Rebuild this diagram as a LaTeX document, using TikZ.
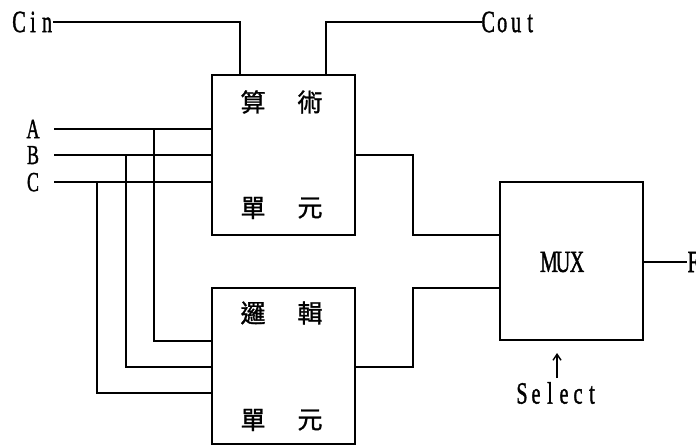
\documentclass[tikz,border=0pt]{standalone}
\usepackage{fontspec}
\usetikzlibrary{arrows.meta}
\newfontfamily\cjk[FakeBold=1.2]{Noto Sans CJK TC}
\newfontfamily\latserif[FakeBold=1.6]{Liberation Serif}
\usepackage{graphicx}
\newcommand\mc[1]{\makebox[14pt]{\scalebox{0.72}[1.1]{#1}}}
\newcommand\lbl[1]{{\latserif\fontsize{28}{28}\selectfont #1}}
\newcommand\lbs[1]{{\latserif\fontsize{25}{25}\selectfont #1}}
\begin{document}
\begin{tikzpicture}[x=1pt,y=-1pt,
  wire/.style={line width=1.9pt,line cap=rect},
  blk/.style={draw,line width=2pt,rectangle,inner sep=0pt},
  ch/.style={font=\cjk\fontsize{25}{25}\selectfont,inner sep=0pt},
  lt/.style={inner sep=0pt}]
\useasboundingbox (0,0) rectangle (696,446);
% blocks
\node[blk,minimum width=143pt,minimum height=160pt] (au) at (283.5,155) {};
\node[blk,minimum width=143pt,minimum height=156pt] (lu) at (283.5,366) {};
\node[blk,minimum width=143pt,minimum height=158pt] (mux) at (571.5,261) {};
% block texts
\node[ch] (t1) at (253,102) {算};
\node[ch] (t2) at (310,102) {術};
\node[ch] (t3) at (253,208) {單};
\node[ch] (t4) at (310,208) {元};
\node[ch] (t5) at (253,313) {邏};
\node[ch] (t6) at (310,313) {輯};
\node[ch] (t7) at (253,420) {單};
\node[ch] (t8) at (310,420) {元};
\node[lt] (muxt) at (563,262) {\lbl{\mc{M}\mc{U}\mc{X}}};
% labels
\node[lt] (cin) at (33,22) {\lbl{\mc{C}\mc{i}\mc{n}}};
\node[lt,anchor=west] (cout) at (481,22) {\lbl{\mc{C}\mc{o}\mc{u}\mc{t}}};
\node[lt,text depth=0pt] (la) at (33,129) {\lbs{\mc{A}}};
\node[lt,text depth=0pt] (lb) at (33,155) {\lbs{\mc{B}}};
\node[lt,text depth=0pt] (lc) at (33,182) {\lbs{\mc{C}}};
\node[lt,anchor=west] (f) at (686,262) {\lbl{\mc{F}}};
\node[lt] (sel) at (557,393) {\lbl{\mc{S}\mc{e}\mc{l}\mc{e}\mc{c}\mc{t}}};
% coordinates
\coordinate (aS) at (55,129);
\coordinate (bS) at (55,155);
\coordinate (cS) at (55,182);
\coordinate (ta) at (154,129);
\coordinate (tb) at (126,155);
\coordinate (tc) at (97,182);
\coordinate (selTip) at (557,353);
\coordinate (selTail) at (557,378);
% carry
\draw[wire] (cin.east) -- (240,22) -- (240,0 |- au.north);
\draw[wire] (326,0 |- au.north) -- (326,22) -- (cout.west);
% inputs
\draw[wire] (aS) -- (au.west |- aS);
\draw[wire] (bS) -- (au.west |- bS);
\draw[wire] (cS) -- (au.west |- cS);
\draw[wire] (ta) -- (154,341) -- (lu.west |- 0,341);
\draw[wire] (tb) -- (126,367) -- (lu.west |- 0,367);
\draw[wire] (tc) -- (97,393) -- (lu.west |- 0,393);
% outputs
\draw[wire] (au.east |- 0,155) -- (413,155) -- (413,235) -- (mux.west |- 0,235);
\draw[wire] (lu.east |- 0,367) -- (413,367) -- (413,288) -- (mux.west |- 0,288);
\draw[wire] (mux.east |- f.west) -- (f.west);
% select
\draw[line width=1.4pt,-{Straight Barb[length=6pt,width=8pt]}] (selTail) -- (selTip);
\end{tikzpicture}
\end{document}
